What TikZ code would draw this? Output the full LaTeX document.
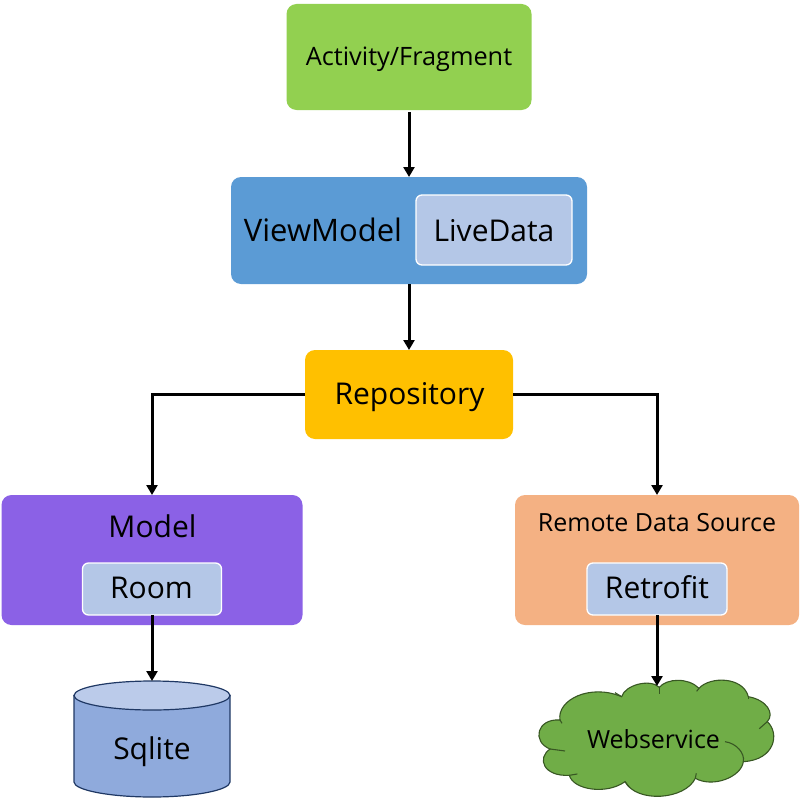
\documentclass[tikz,border=0pt]{standalone}
\usepackage{fontspec}
\setmainfont{Open Sans}
\usetikzlibrary{arrows.meta}
\definecolor{activityfill}{HTML}{92D050}
\definecolor{viewfill}{HTML}{5B9BD5}
\definecolor{innerfill}{HTML}{B4C7E7}
\definecolor{repofill}{HTML}{FFC000}
\definecolor{modelfill}{HTML}{8B61E6}
\definecolor{remotefill}{HTML}{F4B183}
\definecolor{dbbody}{HTML}{8FAADC}
\definecolor{dbtop}{HTML}{BBCBEA}
\definecolor{dbline}{HTML}{1F3864}
\definecolor{cloudfill}{HTML}{70AD47}
\definecolor{cloudline}{HTML}{385723}
\tikzset{
  block/.style={rectangle,rounded corners=10pt,outer sep=0pt,inner sep=0pt},
  inner block/.style={block,fill=innerfill,draw=white,line width=1.3pt,rounded corners=6pt},
  big label/.style={inner sep=0pt,anchor=base,font=\fontsize{30}{34}\selectfont},
  small label/.style={inner sep=0pt,anchor=base,font=\fontsize{25}{30}\selectfont},
  db stroke/.style={draw=dbline,line width=1.2pt},
  cloud stroke/.style={draw=cloudline,line width=1.1pt},
  link/.style={line width=3pt,-{Triangle[length=10pt,width=11pt]}}
}
\begin{document}
\begin{tikzpicture}[x=1pt,y=-1pt]
  \useasboundingbox (0,0) rectangle (800,800);
  %top of the stack
  \node[block,fill=activityfill,minimum width=245pt,minimum height=106pt] (activity) at (409,57) {};
  \node[small label,font=\fontsize{25.3}{30}\selectfont] (activitytext) at (409,66) {Activity/Fragment};
  \node[block,fill=viewfill,minimum width=356pt,minimum height=107pt] (viewmodel) at (409,230.5) {};
  \node[big label,font=\fontsize{31}{35}\selectfont] (viewtext) at (323,241) {ViewModel};
  \node[inner block,minimum width=156pt,minimum height=70pt] (livedata) at (494,230) {};
  \node[big label] (livetext) at (494,241) {LiveData};
  \node[block,fill=repofill,minimum width=208pt,minimum height=89pt] (repository) at (409,394.5) {};
  \node[big label] (repotext) at (409.5,404) {Repository};
  %left branch
  \node[block,fill=modelfill,minimum width=301pt,minimum height=130pt] (model) at (152,560) {};
  \node[big label] (modeltext) at (152.5,537) {Model};
  \node[inner block,minimum width=139pt,minimum height=52pt] (room) at (152,589) {};
  \node[big label] (roomtext) at (151.5,598) {Room};
  %cylinder
  \draw[fill=dbbody,db stroke] (74,695.5) -- (74,782)
    .. controls (74,790) and (109,797) .. (152,797)
    .. controls (195,797) and (230,790) .. (230,782) -- (230,695.5) -- cycle;
  \draw[fill=dbtop,db stroke] (152,695.5) ellipse [x radius=78pt,y radius=14.5pt];
  \coordinate (sqlitetop) at (152,681);
  \node[big label] (sqlite) at (152,759) {Sqlite};
  %right branch
  \node[block,fill=remotefill,minimum width=284pt,minimum height=130pt] (remote) at (657,560) {};
  \node[small label] (remotetext) at (657,531) {Remote Data Source};
  \node[inner block,minimum width=140pt,minimum height=52pt] (retrofit) at (657,589) {};
  \node[big label] (retrofittext) at (657,598) {Retrofit};
  %cloud traced by hand
  \begin{scope}[shift={(500,600)},x=0.3333pt,y=-0.3333pt]
    \draw[fill=cloudfill,cloud stroke]
      (180,360) .. controls (170,300) and (270,250) .. (365,290)
      .. controls (375,255) and (450,235) .. (478,262)
      .. controls (500,235) and (565,232) .. (597,265)
      .. controls (630,228) and (730,230) .. (745,290)
      .. controls (800,300) and (825,340) .. (802,365)
      .. controls (840,400) and (825,480) .. (730,485)
      .. controls (725,530) and (640,565) .. (586,535)
      .. controls (555,600) and (410,610) .. (375,545)
      .. controls (320,585) and (220,570) .. (208,526)
      .. controls (130,530) and (110,475) .. (150,447)
      .. controls (95,425) and (110,355) .. (180,360) -- cycle;
    \draw[cloud stroke] (365,290) -- (345,278);
    \draw[cloud stroke] (478,262) -- (478,282);
    \draw[cloud stroke] (597,265) -- (590,274);
    \draw[cloud stroke] (745,290) -- (745,298);
    \draw[cloud stroke] (802,365) -- (778,386);
    \draw[cloud stroke] (675,425) .. controls (710,430) and (735,460) .. (730,485);
    \draw[cloud stroke] (586,535) -- (589,520);
    \draw[cloud stroke] (375,545) -- (387,560);
    \draw[cloud stroke] (208,526) -- (232,522);
    \draw[cloud stroke] (150,447) -- (195,453);
    \draw[cloud stroke] (180,360) -- (186,370);
  \end{scope}
  \node[small label] (webservice) at (653.5,748) {Webservice};
  \coordinate (cloudtop) at (657,686);
  %links
  \draw[link,shorten <=2pt] (activity) -- (viewmodel);
  \draw[link] (viewmodel) -- (repository);
  \draw[link] (repository.west) -| (model.north);
  \draw[link] (repository.east) -| (remote.north);
  \draw[link] (room.south) -- (sqlitetop);
  \draw[link] (retrofit.south) -- (cloudtop);
\end{tikzpicture}
\end{document}
